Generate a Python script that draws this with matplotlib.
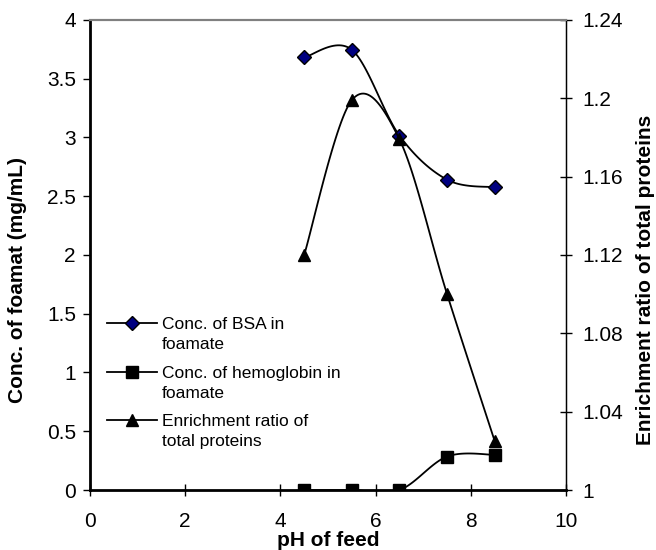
import matplotlib.pyplot as plt
import numpy as np
from matplotlib.lines import Line2D

plt.rcParams['font.family'] = ['Liberation Sans', 'DejaVu Sans']

ph = [4.5, 5.5, 6.5, 7.5, 8.5]
bsa = [3.68, 3.745, 3.015, 2.64, 2.575]
hemo = [0.0, 0.0, 0.0, 0.285, 0.30]
ratio = [1.12, 1.199, 1.179, 1.10, 1.025]

legend_labels = ['Conc. of BSA in\nfoamate', 'Conc. of hemoglobin in\nfoamate',
                 'Enrichment ratio of\ntotal proteins']


def smooth(x, y, n=30):
    # catmull-rom style smoothing like excel's smoothed line
    x = np.asarray(x, float)
    y = np.asarray(y, float)
    px = np.concatenate([[x[0]], x, [x[-1]]])
    py = np.concatenate([[y[0]], y, [y[-1]]])
    xs, ys = [], []
    t = np.linspace(0, 1, n)
    for i in range(1, len(px) - 2):
        p0, p1, p2, p3 = [np.array([px[j], py[j]]) for j in range(i - 1, i + 3)]
        c1 = p1 + (p2 - p0) / 6
        c2 = p2 - (p3 - p1) / 6
        for tt in t:
            b = ((1 - tt) ** 3 * p1 + 3 * (1 - tt) ** 2 * tt * c1
                 + 3 * (1 - tt) * tt ** 2 * c2 + tt ** 3 * p2)
            xs.append(b[0])
            ys.append(b[1])
    return xs, ys


fig = plt.figure(figsize=(6.56, 5.5), dpi=100)
ax = fig.add_axes([0.137, 0.109, 0.726, 0.855])
ax2 = ax.twinx()

styles = [dict(marker='D', ms=7, mfc='#000080', mec='black', mew=1),
          dict(marker='s', ms=8, mfc='black', mec='black'),
          dict(marker='^', ms=9, mfc='black', mec='black')]

sx, sy = smooth(ph, bsa)
ax.plot(sx, sy, color='black', lw=1.3, zorder=2)
ax.plot(ph, bsa, ls='none', zorder=3, **styles[0])
sx, sy = smooth(ph, hemo)
ax.plot(sx, sy, color='black', lw=1.3, zorder=2)
ax.plot(ph, hemo, ls='none', zorder=3, **styles[1])
sx, sy = smooth(ph, ratio)
ax2.plot(sx, sy, color='black', lw=1.3, zorder=2)
ax2.plot(ph, ratio, ls='none', zorder=3, **styles[2])

# legend drawn by hand so the marker sits on the first text line
leg_y = [0.355, 0.251, 0.149]
for yy, lab, st in zip(leg_y, legend_labels, styles):
    ax2.add_line(Line2D([0.036, 0.141], [yy, yy], color='black', lw=1.3,
                        transform=ax.transAxes, clip_on=False))
    ax2.add_line(Line2D([0.088], [yy], transform=ax.transAxes, clip_on=False, **st))
    ax2.text(0.151, yy + 0.0125, lab, transform=ax.transAxes, fontsize=12.5,
             va='top', ha='left', linespacing=1.4)

ax.set_xlim(0, 10)
ax.set_ylim(0, 4)
ax2.set_ylim(1, 1.24)
ax.set_xticks([0, 2, 4, 6, 8, 10])
ax.set_yticks([0, 0.5, 1, 1.5, 2, 2.5, 3, 3.5, 4])
ax.set_yticklabels(['0', '0.5', '1', '1.5', '2', '2.5', '3', '3.5', '4'])
ax2.set_yticks([1, 1.04, 1.08, 1.12, 1.16, 1.2, 1.24])
ax2.set_yticklabels(['1', '1.04', '1.08', '1.12', '1.16', '1.2', '1.24'])

ax.tick_params(axis='y', labelsize=15, width=1, length=5, pad=5, color='black')
ax.tick_params(axis='x', labelsize=15, direction='inout', length=8, width=1, pad=12)
ax2.tick_params(axis='y', labelsize=15, direction='inout', length=8, width=1, pad=8)

ax.set_xlabel('pH of feed', fontsize=15, fontweight='bold', labelpad=0)
ax.set_ylabel('Conc. of foamat (mg/mL)', fontsize=15, fontweight='bold')
ax2.set_ylabel('Enrichment ratio of total proteins', fontsize=15, fontweight='bold')
ax.yaxis.set_label_coords(-0.132, 0.447)
ax2.yaxis.set_label_coords(1.147, 0.447)

for a in (ax, ax2):
    a.spines['top'].set_color('#808080')
    a.spines['top'].set_linewidth(1.5)
ax.spines['left'].set_linewidth(2)
ax.spines['bottom'].set_linewidth(2)
ax2.spines['right'].set_linewidth(1)
ax2.spines['left'].set_visible(False)
ax2.spines['bottom'].set_visible(False)

fig.savefig('out.png', dpi=100)
